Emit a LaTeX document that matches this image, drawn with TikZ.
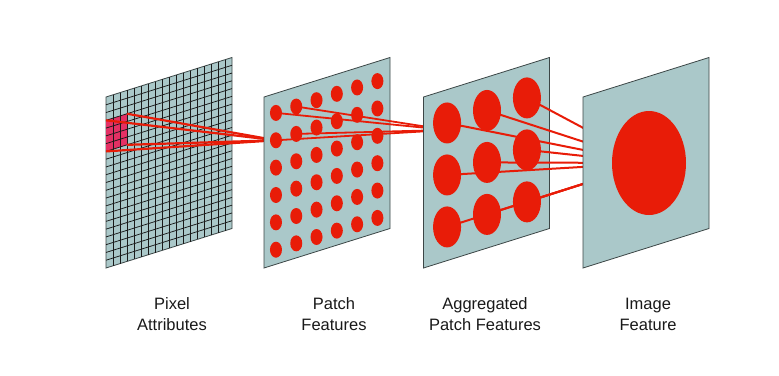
\documentclass[tikz,border=0pt]{standalone}
\usepackage{fontspec}
\setmainfont{Liberation Sans}
\usetikzlibrary{shapes.geometric}
\definecolor{panelfill}{RGB}{170,200,201}
\definecolor{panelline}{RGB}{60,70,70}
\definecolor{featred}{RGB}{232,28,8}
\definecolor{patchpink}{RGB}{228,48,100}
\definecolor{labelgray}{RGB}{25,25,25}
\tikzset{
  onpanel/.style={shift={(#1,97)},x={(126pt,39.5pt)},y={(0pt,-171pt)}},
  panel/.style={fill=panelfill,draw=panelline,line width=0.8pt},
  gridline/.style={draw=black!90,line width=0.75pt},
  link/.style={draw=featred,line width=2.2pt},
  smalldot/.style={ellipse,fill=featred,inner sep=0pt,minimum width=12pt,minimum height=16pt},
  bigdot/.style={ellipse,fill=featred,inner sep=0pt,minimum width=28pt,minimum height=41pt},
  imagedot/.style={ellipse,fill=featred,inner sep=0pt,minimum width=74pt,minimum height=104pt},
  caption/.style={anchor=north,inner sep=0pt,align=center,text=labelgray,
    font=\fontsize{16.5}{21}\selectfont}
}
\begin{document}
\begin{tikzpicture}[x=1pt,y=-1pt]
  \useasboundingbox (0,0) rectangle (779,375);
  % panel corners and feature centres
  \foreach \name/\lx in {pix/106,pat/264,agg/423.5,img/583}{
    \begin{scope}[onpanel=\lx]
      \coordinate (\name-tl) at (0,0);
      \coordinate (\name-tr) at (1,0);
      \coordinate (\name-br) at (1,1);
      \coordinate (\name-bl) at (0,1);
    \end{scope}
  }
  \begin{scope}[onpanel=106]
    \coordinate (px-a) at (0,3/22);
    \coordinate (px-b) at (3/18,3/22);
    \coordinate (px-c) at (3/18,7/22);
    \coordinate (px-d) at (0,7/22);
  \end{scope}
  \begin{scope}[onpanel=264]
    \foreach \i in {0,...,5}
      \foreach \j in {0,...,5}
        \coordinate (pc-\i-\j) at ({0.095+0.161*\i},{0.115+0.16*\j});
  \end{scope}
  \begin{scope}[onpanel=423.5]
    \foreach \i in {0,1,2}
      \foreach \j in {0,1,2}
        \coordinate (ac-\i-\j) at ({0.187+0.317*\i},{0.195+0.304*\j});
    \coordinate (ac-in) at (0.187,0.236);
  \end{scope}
  \coordinate (ic) at (649,163);

  % pixel attributes
  \draw[panel] (pix-tl) -- (pix-tr) -- (pix-br) -- (pix-bl) -- cycle;
  \fill[patchpink] (px-a) -- (px-b) -- (px-c) -- (px-d) -- cycle;
  \begin{scope}[onpanel=106]
    \foreach \i in {1,...,17}
      \draw[gridline] (\i/18,0) -- (\i/18,1);
    \foreach \j in {1,...,21}
      \draw[gridline] (0,\j/22) -- (1,\j/22);
  \end{scope}
  \foreach \c in {a,b,c,d}
    \draw[link] (px-\c) -- (pc-0-1);

  % patch features
  \draw[panel] (pat-tl) -- (pat-tr) -- (pat-br) -- (pat-bl) -- cycle;
  \foreach \i in {0,...,5}
    \foreach \j in {0,...,5}
      \node[smalldot] (pd-\i-\j) at (pc-\i-\j) {};
  \foreach \i/\j in {0/0,1/0,0/1,1/1}
    \draw[link,line width=1.8pt] (pd-\i-\j.center) -- (ac-in);

  % aggregated patch features
  \draw[panel] (agg-tl) -- (agg-tr) -- (agg-br) -- (agg-bl) -- cycle;
  \foreach \i in {0,1,2}
    \foreach \j in {0,1,2}
      \node[bigdot] (ad-\i-\j) at (ac-\i-\j) {};
  \foreach \i in {0,1,2}
    \foreach \j in {0,1,2}
      \draw[link,line width=2pt] (ad-\i-\j.center) -- (ic);

  % image feature
  \draw[panel] (img-tl) -- (img-tr) -- (img-br) -- (img-bl) -- cycle;
  \node[imagedot] (idot) at (ic) {};

  % captions
  \node[caption] (cap-pix) at (172,297.5) {Pixel\\Attributes};
  \node[caption] (cap-pat) at (334,297.5) {Patch\\Features};
  \node[caption] (cap-agg) at (485,297.5) {Aggregated\\Patch Features};
  \node[caption] (cap-img) at (648,297.5) {Image\\Feature};
\end{tikzpicture}
\end{document}
